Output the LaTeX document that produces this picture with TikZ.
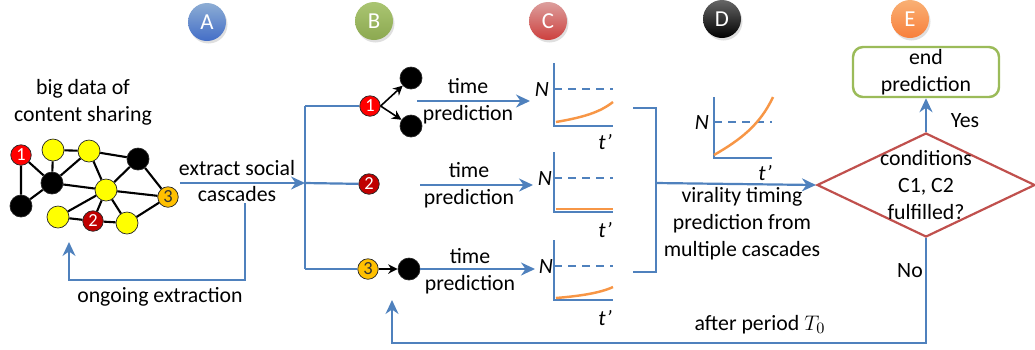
\documentclass[tikz,border=0pt]{standalone}
\usepackage{fontspec}
\setmainfont{Carlito}
\usepackage{tikz}
\usetikzlibrary{arrows.meta, positioning, shapes.geometric, shadows}
\definecolor{flowblue}{HTML}{4F81BD}
\definecolor{curveorange}{HTML}{F79646}
\definecolor{condred}{HTML}{C0504D}
\definecolor{endgreen}{HTML}{9BBB59}
\definecolor{netyellow}{HTML}{FFFF00}
\definecolor{netred}{HTML}{FF0000}
\definecolor{netdark}{HTML}{C00000}
\definecolor{netorange}{HTML}{FFC000}

\begin{document}
\begin{tikzpicture}[
    x=0.2mm, y=-0.2mm,
    every node/.style={font=\fontsize{12.4}{15.3}\selectfont},
    stage/.style={circle, minimum size=7.6mm, inner sep=0pt, text=white, font=\fontsize{13}{13}\selectfont, drop shadow={opacity=0.25, shadow xshift=0.3mm, shadow yshift=-0.5mm}},
    user/.style={circle, draw=black!85, thin, minimum size=4.4mm, inner sep=0pt},
    seed/.style={user, minimum size=4.1mm, font=\fontsize{10.5}{10.5}\selectfont, text=white},
    tie/.style={line width=1.2pt, black},
    link/.style={line width=1.25pt, color=flowblue},
    guide/.style={line width=1.25pt, color=flowblue, dash pattern=on 1.6mm off 1.2mm},
    flow/.style={-{Stealth[length=2.8mm, width=2.6mm]}, line width=1.25pt, color=flowblue},
    hop/.style={-{Stealth[length=1.9mm, width=1.9mm]}, line width=0.9pt, black},
    curve/.style={line width=1.4pt, color=curveorange},
    lab/.style={align=center}
]
\useasboundingbox (0,0) rectangle (1035,349);

% Stage markers
\node[stage, top color=flowblue!65, bottom color=flowblue!85!blue] (sA) at (207,22) {A};
\node[stage, top color=endgreen!85, bottom color=endgreen!90!black] (sB) at (374,21) {B};
\node[stage, top color=condred!55, bottom color=condred!80!red] (sC) at (548,21) {C};
\node[stage, top color=black!60, bottom color=black] (sD) at (722,19) {D};
\node[stage, top color=curveorange!75, bottom color=curveorange!85!red] (sE) at (910,19) {E};

% Network of users
\node[seed, fill=netred] (u1) at (21,155) {1};
\node[user, fill=netyellow] (ya) at (53,150) {};
\node[user, fill=netyellow] (yb) at (89,151) {};
\node[user, fill=black] (ba) at (138,159) {};
\node[user, fill=black] (bb) at (52,183) {};
\node[user, fill=netyellow] (yc) at (106,190) {};
\node[seed, fill=netorange, text=black!80] (u3) at (168,197) {3};
\node[user, fill=black] (bc) at (21,206) {};
\node[user, fill=netyellow] (yd) at (58,217) {};
\node[seed, fill=netdark] (u2) at (93,221) {2};
\node[user, fill=netyellow] (ye) at (127,223) {};

\draw[tie] (u1) -- (bb) (u1) -- (bc) (ya) -- (yb) (ya) -- (bb) (yb) -- (bb)
    (yb) -- (ba) (yb) -- (yc) (bb) -- (bc) (bb) -- (yc) (ba) -- (yc)
    (ba) -- (u3) (yc) -- (u3) (yc) -- (yd) (yc) -- (ye) (yc) -- (u2)
    (yd) -- (u2) (u2) -- (ye) (ye) -- (u3);

\node[lab] (bigdata) at (83,102) {big data of\\content sharing};
\node[lab] (extr) at (237,181) {extract social\\cascades};
\node (ongo) at (160,297) {ongoing extraction};

% Extraction and split into cascades
\coordinate (netout) at (180,183);
\coordinate (split) at (305,183);
\coordinate (splitup) at (305,106);
\coordinate (splitdn) at (305,269);
\coordinate (fbA) at (245,203);
\coordinate (netin) at (69,242);
\draw[flow] (netout) -- (split);
\draw[flow] (fbA) -- ++(0,77) -| (netin);

% Cascades
\node[seed, fill=netred] (c1) at (370,106) {1};
\node[user, fill=black] (c1a) at (411,78) {};
\node[user, fill=black] (c1b) at (411,126) {};
\node[seed, fill=netdark] (c2) at (369,184) {2};
\node[seed, fill=netorange, text=black!80] (c3) at (368,269) {3};
\node[user, fill=black] (c3a) at (409,269) {};

\draw[link] (splitup) -- (splitdn);
\draw[link] (splitup) -- (c1);
\draw[link] (split) -- (c2);
\draw[link] (splitdn) -- (c3);
\draw[hop] (c1.east) -- (c1a);
\draw[hop] (c1.east) -- (c1b);
\draw[hop] (c3) -- (c3a);

% Time prediction per cascade
\node[lab] (tp1) at (468,101) {time\\prediction};
\node[lab] (tp2) at (469,185) {time\\prediction};
\node[lab] (tp3) at (470,271) {time\\prediction};
\coordinate (tp1s) at (417,101);
\coordinate (tp1e) at (530,101);
\coordinate (tp2s) at (420,185);
\coordinate (tp2e) at (533,185);
\coordinate (tp3e) at (535,269);
\draw[flow] (tp1s) -- (tp1e);
\draw[flow] (tp2s) -- (tp2e);
\draw[flow] (c3a) -- (tp3e);

% Plots C
\draw[link] (554,63) -- (554,126) -- (613,126);
\draw[guide] (554,89) -- (613,89);
\draw[curve] (556,122) .. controls (585,117) and (600,112) .. (613,102);
\node (n1) at (542,89) {\textit{N}};
\node (t1) at (605,142) {\textit{t’}};

\draw[link] (554,152) -- (554,212) -- (613,212);
\draw[guide] (554,178) -- (613,178);
\draw[curve] (556,209) -- (613,209);
\node (n2) at (545,178) {\textit{N}};
\node (t2) at (605,230) {\textit{t’}};

\draw[link] (554,240) -- (554,300) -- (613,300);
\draw[guide] (554,266) -- (613,266);
\draw[curve] (556,298) .. controls (580,296) and (600,293) .. (613,287);
\node (n3) at (546,266) {\textit{N}};
\node (t3) at (605,318) {\textit{t’}};

% Merge of cascades
\coordinate (brtop) at (633,108);
\coordinate (brbot) at (633,272);
\coordinate (merge) at (656,183);
\draw[link] (brtop) -- ++(23,0) |- (brbot);

% Plot D
\draw[link] (714,97) -- (714,158) -- (772,158);
\draw[guide] (714,122) -- (772,122);
\draw[curve] (714,155) .. controls (740,140) and (760,125) .. (773,97);
\node (nD) at (702,122) {\textit{N}};
\node (tD) at (765,173) {\textit{t’}};
\node[lab] (viral) at (742,224) {virality timing\\prediction from\\multiple cascades};

% Decision
\node[diamond, draw=condred, line width=1.25pt, minimum width=43.6mm, minimum height=20.8mm, inner sep=0pt] (dec) at (926,185) {};
\node[lab] (dectxt) at (926,185) {conditions\\C1, C2\\fulfilled?};
\node[draw=endgreen, line width=1.4pt, rounded corners=2mm, minimum width=29.2mm, minimum height=10mm, align=center, inner sep=0pt] (endbox) at (926,72) {end\\prediction};
\coordinate (again) at (392,300);

\draw[flow] (merge) -- (dec.west);
\draw[flow] (dec.north) -- (endbox.south);
\draw[flow] (dec.south) -- ++(0,105) -| (again);
\node (yes) at (965,121) {Yes};
\node (no) at (910,271) {No};
\node (after) at (760,325) {after period $T_0$};
\end{tikzpicture}
\end{document}
